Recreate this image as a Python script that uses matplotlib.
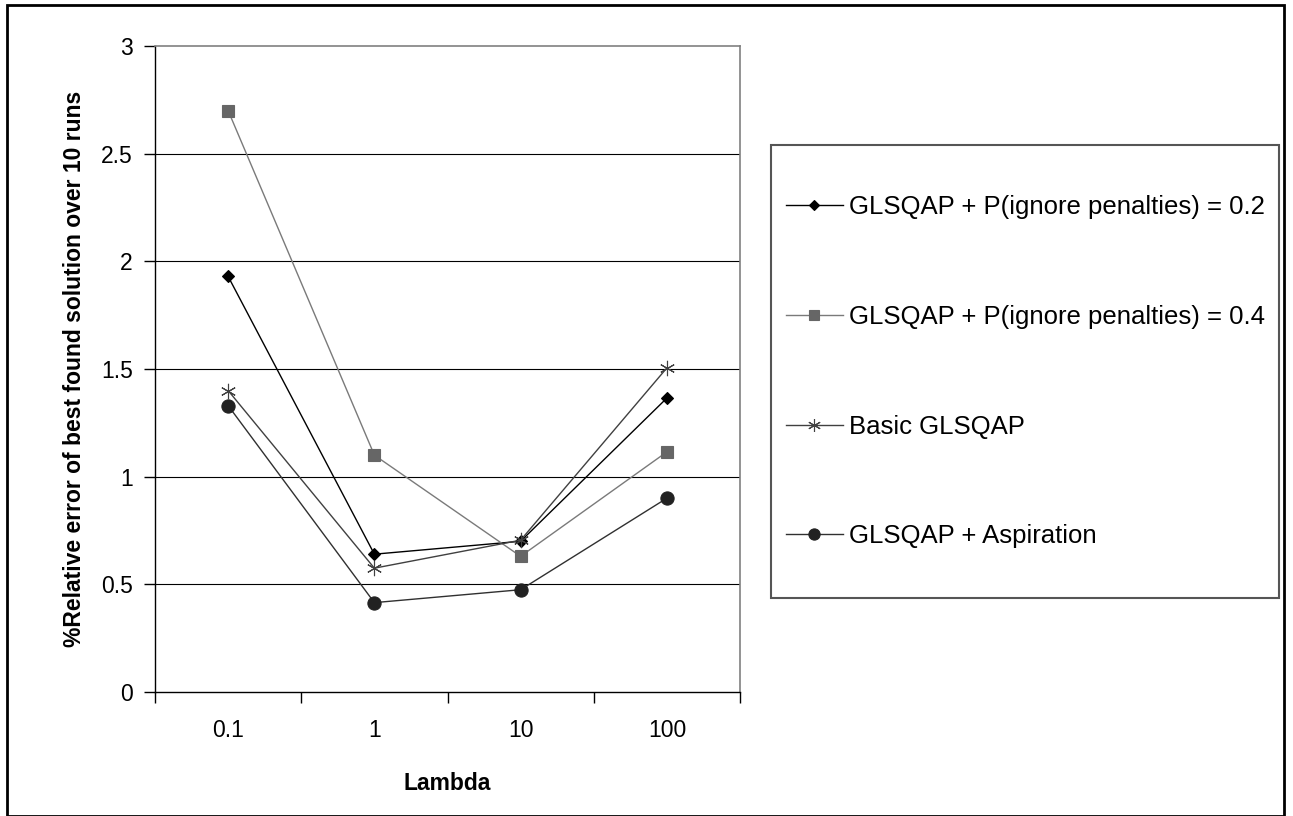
import matplotlib
matplotlib.use("Agg")
import matplotlib.pyplot as plt
from matplotlib.lines import Line2D
from matplotlib.patches import Rectangle

plt.rcParams['font.family'] = ['Liberation Sans', 'DejaVu Sans']

categories = ["0.1", "1", "10", "100"]
series_names = [
    "GLSQAP + P(ignore penalties) = 0.2",
    "GLSQAP + P(ignore penalties) = 0.4",
    "Basic GLSQAP",
    "GLSQAP + Aspiration",
]
p02 = [1.93, 0.64, 0.70, 1.365]
p04 = [2.70, 1.10, 0.63, 1.115]
basic = [1.40, 0.575, 0.705, 1.505]
aspiration = [1.33, 0.415, 0.475, 0.90]
yticks = [0, 0.5, 1, 1.5, 2, 2.5, 3]

W, H = 1293, 816
fig = plt.figure(figsize=(W / 100, H / 100), dpi=100)
fig.patch.set_facecolor("white")

# outer border
fig.add_artist(Rectangle((7 / W, 0.0), (1284 - 7) / W, (H - 5) / H, transform=fig.transFigure,
                         fill=False, edgecolor="black", linewidth=2.0))

ax = fig.add_axes([155 / W, 1 - 692 / H, (740 - 155) / W, (692 - 46) / H])
x = [i + 0.5 for i in range(len(categories))]

styles = [
    dict(data=p02, marker="D", ms=6.5, mfc="black", mec="black", lc="black"),
    dict(data=p04, marker="s", ms=9, mfc="#666666", mec="#666666", lc="#7a7a7a"),
    dict(data=basic, marker=(6, 2, 0), ms=11, mfc="#404040", mec="#404040", lc="#404040"),
    dict(data=aspiration, marker="o", ms=9.5, mfc="#222222", mec="#222222", lc="#303030"),
]
handles = []
for name, st in zip(series_names, styles):
    ax.plot(x, st["data"], color=st["lc"], lw=1.0, marker=st["marker"], ms=st["ms"],
            mfc=st["mfc"], mec=st["mec"], mew=0.8, zorder=3)
    handles.append(Line2D([0], [0], color=st["lc"], lw=1.0, marker=st["marker"], ms=st["ms"] * 0.85,
                          mfc=st["mfc"], mec=st["mec"], mew=0.8, label=name))

ax.set_xlim(0, 4)
ax.set_ylim(0, 3)
ax.set_yticks(yticks)
ax.set_yticklabels([f"{v:g}" for v in yticks], fontsize=16.5)
for v in yticks[1:-1]:
    ax.axhline(v, color="black", lw=0.8, zorder=1)

ax.set_xticks([0, 1, 2, 3, 4])
ax.set_xticklabels([])
ax.set_xticks(x, minor=True)
ax.set_xticklabels(categories, minor=True, fontsize=16.5)
ax.tick_params(axis="x", which="major", direction="out", length=8, width=1, color="black")
ax.tick_params(axis="x", which="minor", length=0, pad=19.5)
ax.tick_params(axis="y", direction="out", length=8, width=1, pad=8)

ax.spines["left"].set_color("black")
ax.spines["bottom"].set_color("black")
ax.spines["left"].set_linewidth(1.0)
ax.spines["bottom"].set_linewidth(1.0)
ax.spines["top"].set_color("#808080")
ax.spines["right"].set_color("#808080")
ax.spines["top"].set_linewidth(1.2)
ax.spines["right"].set_linewidth(1.2)

fig.text(447 / W, 1 - 783 / H, "Lambda", fontsize=16.5, fontweight="bold", ha="center", va="center")
fig.text(75 / W, 1 - 369 / H, "%Relative error of best found solution over 10 runs", fontsize=16.5,
         fontweight="bold", ha="center", va="center", rotation=90)

# legend box
fig.add_artist(Rectangle((771 / W, 1 - 598 / H), (1279 - 771) / W, (598 - 145) / H, transform=fig.transFigure,
                         fill=False, edgecolor="#555555", linewidth=1.5))
leg = fig.legend(handles=handles, loc="upper left", bbox_to_anchor=(786 / W, 1 - 195 / H),
                 frameon=False, fontsize=18.5, handlelength=2.2, handletextpad=0.25,
                 labelspacing=3.34, borderaxespad=0, borderpad=0)

fig.savefig("out.png", dpi=100)
